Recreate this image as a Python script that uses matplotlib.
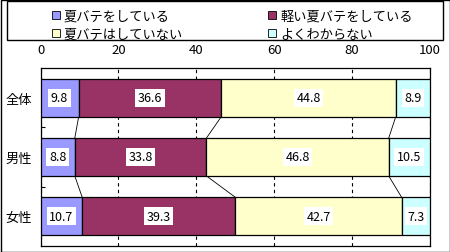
import matplotlib
matplotlib.use('Agg')
from matplotlib import pyplot as plt
from matplotlib.patches import Rectangle, Patch

plt.rcParams['font.family'] = ['Noto Sans CJK JP', 'DejaVu Sans']

# data
groups = ['全体', '男性', '女性']
series_names = ['夏バテをしている', '軽い夏バテをしている', '夏バテはしていない', 'よくわからない']
colors = ['#9999FF', '#993366', '#FFFFCC', '#CCFFFF']
vals_yes = [9.8, 8.8, 10.7]
vals_light = [36.6, 33.8, 39.3]
vals_no = [44.8, 46.8, 42.7]
vals_unknown = [8.9, 10.5, 7.3]
x_ticks = [0, 20, 40, 60, 80, 100]

series = [vals_yes, vals_light, vals_no, vals_unknown]
bar_h = 0.64

fig = plt.figure(figsize=(4.5, 2.53), dpi=100)
ax = fig.add_axes([40.5 / 450, 1 - 246.7 / 253, 389.5 / 450, 177.4 / 253])

ypos = list(range(len(groups)))
left = [0.0] * len(groups)
bounds = []  # cumulative boundaries for series lines
for vals, col in zip(series, colors):
    ax.barh(ypos, vals, left=left, height=bar_h, color=col,
            edgecolor='black', linewidth=0.9, zorder=3)
    for i, v in enumerate(vals):
        ax.text(left[i] + v / 2, ypos[i], f'{v:.1f}', ha='center', va='center',
                fontsize=9, zorder=5,
                bbox=dict(boxstyle='square,pad=0.2', fc='white', ec='none'))
    left = [l + v for l, v in zip(left, vals)]
    bounds.append(list(left))

# series lines between neighbouring bars
for b in bounds[:-1]:
    for i in range(len(groups) - 1):
        ax.plot([b[i], b[i + 1]], [ypos[i] + bar_h / 2, ypos[i + 1] - bar_h / 2],
                color='black', linewidth=0.6, zorder=2)

ax.set_xlim(0, 100)
ax.set_ylim(len(groups) - 0.5, -0.5)
ax.set_xticks(x_ticks)
ax.xaxis.tick_top()
ax.tick_params(axis='x', length=0, pad=9, labelsize=9.5)
ax.grid(axis='x', color='black', linestyle=(0, (3, 3)), linewidth=0.8, zorder=1)
ax.set_yticks(ypos)
ax.set_yticklabels(groups, fontsize=9.5)
ax.tick_params(axis='y', length=0, pad=6)
ax.set_yticks([0.5, 1.5], minor=True)
ax.tick_params(axis='y', which='minor', direction='in', length=3, width=0.8)
for s in ax.spines.values():
    s.set_linewidth(0.9)

# legend with a box around it
handles = [Patch(facecolor=c, edgecolor='black', linewidth=0.6) for c in colors]
order = [0, 2, 1, 3]
fig.legend([handles[k] for k in order], [series_names[k] for k in order],
           ncol=2, loc='upper left', bbox_to_anchor=(45 / 450, 1 - 4 / 253),
           frameon=False, fontsize=9.5, handlelength=0.6, handleheight=0.6,
           handletextpad=0.3, columnspacing=6.5, labelspacing=0.4, borderpad=0)
fig.add_artist(Rectangle((7 / 450, 1 - 41 / 253), 436 / 450, 39 / 253,
                         transform=fig.transFigure, fill=False, ec='black', lw=1))
fig.add_artist(Rectangle((0.5 / 450, 0.5 / 253), 449 / 450, 252 / 253,
                         transform=fig.transFigure, fill=False, ec='black', lw=1))

fig.savefig('out.png', dpi=100)
